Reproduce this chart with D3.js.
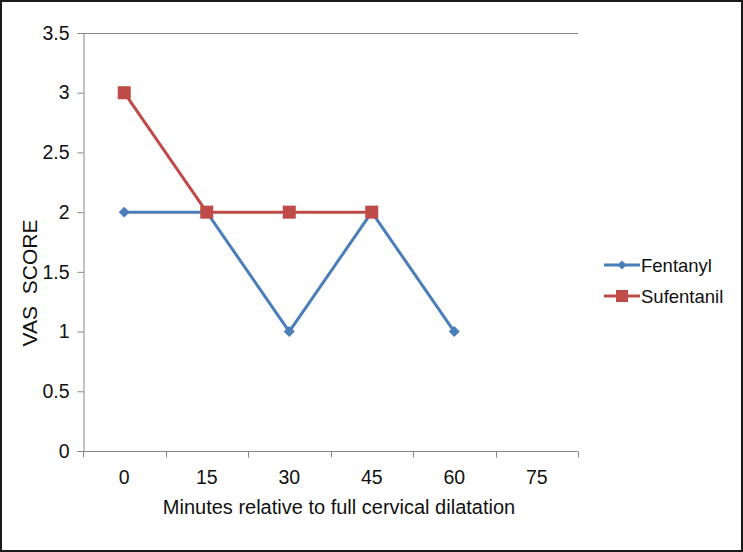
<!DOCTYPE html>
<html><head><meta charset="utf-8">
<script src="https://cdn.jsdelivr.net/npm/d3@7"></script>
<style>body{margin:0;background:#fff}svg{display:block}text{font-family:"Liberation Sans",Arial,sans-serif;fill:#111}</style>
</head><body><svg id="c" width="743" height="552"></svg>
<script>
const categories = ["0","15","30","45","60","75"];
const fentanyl = [2,2,1,2,1,null];
const sufentanil = [3,2,2,2,null,null];
const yTicks = [0,0.5,1,1.5,2,2.5,3,3.5];
const seriesNames = ["Fentanyl","Sufentanil"];
const colors = ["#4A7EBB","#BE4B48"];

const svg = d3.select("#c");
svg.append("rect").attr("x",1).attr("y",1).attr("width",741).attr("height",550).attr("fill","#fff").attr("stroke","#1a1a1a").attr("stroke-width",2);

const L=83,R=578,T=33,B=451;
const x = d3.scaleBand().domain(categories).range([L,R]);
const y = d3.scaleLinear().domain([0,3.5]).range([B,T]);

svg.append("line").attr("x1",L).attr("x2",R).attr("y1",T+0.5).attr("y2",T+0.5).attr("stroke","#868686").attr("stroke-width",1);

const ya = svg.append("g").attr("transform",`translate(${L+0.5},0)`)
  .call(d3.axisLeft(y).tickValues(yTicks).tickFormat(d=>String(d)).tickSize(6).tickPadding(8));
const xa = svg.append("g").attr("transform",`translate(0,${B+0.5})`)
  .call(d3.axisBottom(x).tickSize(0).tickPadding(19));
const bounds = categories.map(c=>x(c)).concat([R]);
xa.selectAll(".bt").data(bounds).enter().append("line").attr("class","bt")
  .attr("x1",d=>Math.round(d)+0.5).attr("x2",d=>Math.round(d)+0.5).attr("y1",0).attr("y2",6).attr("stroke","#868686");
[ya,xa].forEach(g=>{g.selectAll("path.domain").attr("stroke","#868686");g.selectAll("line").attr("stroke","#868686");g.selectAll("text").style("font-size","19.5px").attr("fill","#111");});
xa.select("path.domain").attr("d",`M${L},0H${R}`);

svg.append("text").attr("x",339).attr("y",514).attr("text-anchor","middle").style("font-size","20px").text("Minutes relative to full cervical dilatation");
svg.append("text").attr("transform","translate(37,283) rotate(-90)").attr("text-anchor","middle").style("font-size","21px").attr("xml:space","preserve").text("VAS  SCORE");

const data=[fentanyl,sufentanil];
const line = d3.line().defined(d=>d.v!=null).x(d=>x(d.c)+x.bandwidth()/2).y(d=>y(d.v));
data.forEach((s,i)=>{
  const pts = categories.map((c,j)=>({c,v:s[j]}));
  svg.append("path").attr("d",line(pts)).attr("fill","none").attr("stroke",colors[i]).attr("stroke-width",3).attr("stroke-linejoin","round");
  const g = svg.append("g");
  pts.filter(d=>d.v!=null).forEach(d=>{
    const cx=x(d.c)+x.bandwidth()/2, cy=y(d.v);
    if(i==0) g.append("path").attr("d",d3.symbol(d3.symbolSquare,60)()).attr("transform",`translate(${cx},${cy}) rotate(45)`).attr("fill",colors[i]);
    else g.append("rect").attr("x",cx-6.5).attr("y",cy-6.5).attr("width",13).attr("height",13).attr("fill",colors[i]);
  });
});

const lg = svg.append("g");
seriesNames.forEach((n,i)=>{
  const ly = 265 + i*31;
  lg.append("line").attr("x1",604).attr("x2",640).attr("y1",ly).attr("y2",ly).attr("stroke",colors[i]).attr("stroke-width",3);
  if(i==0) lg.append("path").attr("d",d3.symbol(d3.symbolSquare,40)()).attr("transform",`translate(622,${ly}) rotate(45)`).attr("fill",colors[i]);
  else lg.append("rect").attr("x",616).attr("y",ly-6).attr("width",12).attr("height",12).attr("fill",colors[i]);
  lg.append("text").attr("x",641).attr("y",ly+7).style("font-size","18.5px").text(n);
});
</script></body></html>
